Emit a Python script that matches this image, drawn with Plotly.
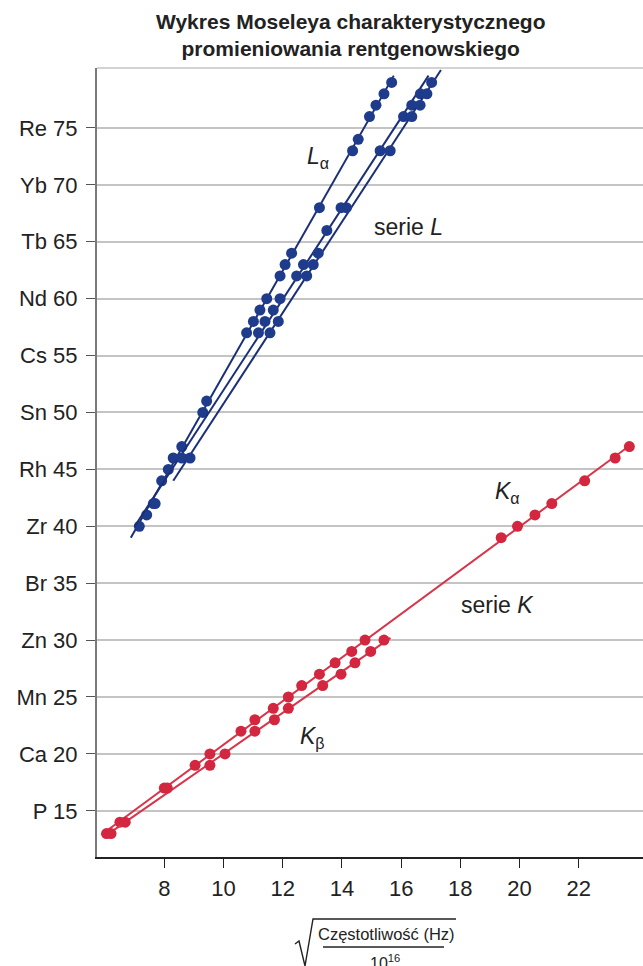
import numpy as np
import plotly.graph_objects as go

# ---------------- data ----------------
# L series (x = sqrt(f / 1e16), y = atomic number Z)
la_z = [40, 41, 42, 44, 45, 46, 47, 50, 51, 57, 58, 59, 60, 62, 63, 64, 68, 73, 74, 76, 77, 78, 79]
la_x = [7.155, 7.405, 7.63, 7.91, 8.135, 8.30, 8.59, 9.30, 9.43, 10.78, 11.01, 11.23, 11.46,
        11.91, 12.08, 12.30, 13.24, 14.36, 14.55, 14.93, 15.15, 15.42, 15.68]
lb_z = [42, 46, 57, 58, 59, 60, 62, 63, 66, 68, 73, 76, 77, 78]
lb_x = [7.69, 8.59, 11.18, 11.40, 11.68, 11.91, 12.47, 12.70, 13.49, 13.97, 15.29, 16.08, 16.36, 16.65]
lg_z = [46, 57, 58, 62, 63, 64, 68, 73, 76, 77, 78, 79]
lg_x = [8.87, 11.57, 11.85, 12.81, 13.03, 13.20, 14.15, 15.63, 16.36, 16.64, 16.87, 17.03]

# K series
ka_z = [13, 14, 17, 19, 20, 22, 23, 24, 25, 26, 27, 28, 29, 30, 39, 40, 41, 42, 44, 46, 47]
ka_x = [6.05, 6.50, 8.00, 9.04, 9.54, 10.59, 11.06, 11.68, 12.19, 12.64, 13.24, 13.77, 14.33,
        14.78, 19.38, 19.93, 20.52, 21.09, 22.20, 23.23, 23.71]
kb_z = [13, 14, 17, 19, 20, 22, 23, 24, 26, 27, 28, 29, 30]
kb_x = [6.20, 6.68, 8.10, 9.54, 10.05, 11.06, 11.72, 12.19, 13.35, 13.97, 14.44, 14.97, 15.42]

# extents (in Z) of the fitted straight lines
la_line_z = [39.0, 79.6]
lb_line_z = [40.0, 79.6]
lg_line_z = [44.0, 80.1]
ka_line_z = [12.9, 47.3]
kb_line_z = [12.9, 30.2]

# axis ticks
y_ticks = [15, 20, 25, 30, 35, 40, 45, 50, 55, 60, 65, 70, 75]
y_labels = ["P 15", "Ca 20", "Mn 25", "Zn 30", "Br 35", "Zr 40", "Rh 45", "Sn 50",
            "Cs 55", "Nd 60", "Tb 65", "Yb 70", "Re 75"]
x_ticks = [8, 10, 12, 14, 16, 18, 20, 22]

title_text = "Wykres Moseleya charakterystycznego<br>promieniowania rentgenowskiego"
x_title_num = "Częstotliwość (Hz)"
x_title_den = "10<sup>16</sup>"

BLUE = "#1f3c8c"
BLUE_LINE = "#1b2f78"
RED = "#d3263f"
RED_LINE = "#d8344a"
FONT = "Liberation Sans, Arial, sans-serif"

W, H = 643, 966
ML, MR, MT, MB = 97, 0, 68, 109
PW, PH = W - ML - MR, H - MT - MB


def px(xp):
    return (xp - ML) / PW


def py(yp):
    return (H - MB - yp) / PH


fig = go.Figure()


def fit_line(zs, xs, zr):
    a, b = np.polyfit(zs, xs, 1)
    zr = np.array(zr)
    return a * zr + b, zr


for zs, xs, zr, col, lcol in [
    (la_z, la_x, la_line_z, BLUE, BLUE_LINE),
    (lb_z, lb_x, lb_line_z, BLUE, BLUE_LINE),
    (lg_z, lg_x, lg_line_z, BLUE, BLUE_LINE),
    (ka_z, ka_x, ka_line_z, RED, RED_LINE),
    (kb_z, kb_x, kb_line_z, RED, RED_LINE),
]:
    lx, lz = fit_line(zs, xs, zr)
    fig.add_trace(go.Scatter(x=lx, y=lz, mode="lines",
                             line=dict(color=lcol, width=2), hoverinfo="skip"))
    fig.add_trace(go.Scatter(x=xs, y=zs, mode="markers",
                             marker=dict(color=col, size=11, line=dict(width=0))))

ann_font = dict(family=FONT, size=23, color="#222")
fig.add_annotation(x=13.2, y=72.4, text="<i>L</i><sub>α</sub>", showarrow=False, font=ann_font)
fig.add_annotation(x=16.25, y=66.3, text="serie <i>L</i>", showarrow=False, font=ann_font)
fig.add_annotation(x=19.6, y=43.0, text="<i>K</i><sub>α</sub>", showarrow=False, font=ann_font)
fig.add_annotation(x=19.25, y=33.1, text="serie <i>K</i>", showarrow=False, font=ann_font)
fig.add_annotation(x=13.0, y=21.4, text="<i>K</i><sub>β</sub>", showarrow=False, font=ann_font)

# title
fig.add_annotation(xref="paper", yref="paper", x=px(350), y=py(35), text="<b>" + title_text + "</b>",
                   showarrow=False, font=dict(family=FONT, size=21, color="#222"),
                   xanchor="center", yanchor="middle")

# x axis title: sqrt( Częstotliwość (Hz) / 10^16 )
fig.add_annotation(xref="paper", yref="paper", x=px(386), y=py(934), text=x_title_num,
                   showarrow=False, font=dict(family=FONT, size=16.5, color="#222"),
                   xanchor="center", yanchor="middle")
fig.add_annotation(xref="paper", yref="paper", x=px(385), y=py(950), text=x_title_den,
                   showarrow=False, font=dict(family=FONT, size=16, color="#222"),
                   xanchor="center", yanchor="top")
fig.add_shape(type="line", xref="paper", yref="paper", x0=px(323), x1=px(444), y0=py(947), y1=py(947),
              line=dict(color="#222", width=1.3))
rad = "M {},{} L {},{} L {},{} L {},{} L {},{}".format(
    px(295), py(944), px(299), py(941), px(305), py(966), px(313), py(919), px(456), py(919))
fig.add_shape(type="path", xref="paper", yref="paper", path=rad, line=dict(color="#222", width=1.4))

# top border line
fig.add_shape(type="line", xref="paper", yref="paper", x0=0, x1=1, y0=1, y1=1,
              line=dict(color="#c4c4c4", width=1.5))

fig.update_layout(
    width=W, height=H,
    margin=dict(l=ML, r=MR, t=MT, b=MB),
    plot_bgcolor="white", paper_bgcolor="white",
    showlegend=False,
    font=dict(family=FONT, color="#222"),
)
fig.update_xaxes(range=[5.726, 24.17], tickvals=x_ticks, ticktext=[str(v) for v in x_ticks],
                 showgrid=False, zeroline=False, showline=True, linecolor="#222", linewidth=1.5,
                 ticks="outside", ticklen=9, tickcolor="#222", tickwidth=1.2,
                 tickfont=dict(family=FONT, size=22, color="#222"), ticklabelstandoff=2)
fig.update_yaxes(range=[10.94, 80.27], tickvals=y_ticks, ticktext=y_labels,
                 showgrid=True, gridcolor="#c4c4c4", gridwidth=1.5, zeroline=False,
                 showline=True, linecolor="#7a7a7a", linewidth=2,
                 ticks="outside", ticklen=9, tickcolor="#555", tickwidth=1.2,
                 tickfont=dict(family=FONT, size=22, color="#222"), ticklabelstandoff=4)

fig.write_html("out.html", config={"displayModeBar": False},
               post_script="document.body.style.margin='0px';document.body.style.overflow='hidden';")
